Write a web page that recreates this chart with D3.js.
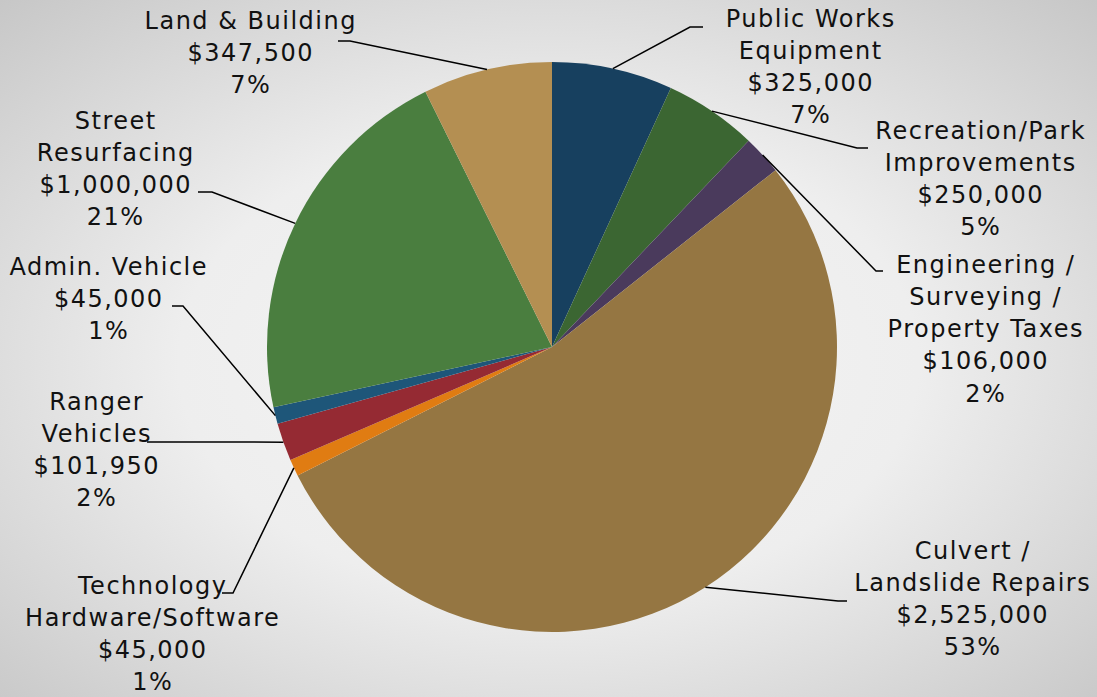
<!DOCTYPE html>
<html>
<head>
<meta charset="utf-8">
<script src="https://cdn.jsdelivr.net/npm/d3@7"></script>
<style>
  html, body { margin: 0; padding: 0; overflow: hidden; }
  text { font-family: "DejaVu Sans", Verdana, sans-serif; }
</style>
</head>
<body>
<script>
var categories = [
  'Public Works Equipment',
  'Recreation/Park Improvements',
  'Engineering / Surveying / Property Taxes',
  'Culvert / Landslide Repairs',
  'Technology Hardware/Software',
  'Ranger Vehicles',
  'Admin. Vehicle',
  'Street Resurfacing',
  'Land & Building'
];
var values = [325000, 250000, 106000, 2525000, 45000, 101950, 45000, 1000000, 347500];
var labelLines = [
  ['Public Works', 'Equipment'],
  ['Recreation/Park', 'Improvements'],
  ['Engineering /', 'Surveying /', 'Property Taxes'],
  ['Culvert /', 'Landslide Repairs'],
  ['Technology', 'Hardware/Software'],
  ['Ranger', 'Vehicles'],
  ['Admin. Vehicle'],
  ['Street', 'Resurfacing'],
  ['Land & Building']
];
var colors = ['#17405f', '#3b6632', '#4a3a5c', '#957642', '#e07c12', '#952a33', '#1e5679', '#4a7e3f', '#b48f52'];

// label block placement: text centre x, first line centre y, leader end (x,y), elbow x
var labelLayout = [
  {x: 810, y: 18,  lx: 703, ly: 27,  ex: 690},
  {x: 980, y: 130, lx: 868, ly: 148, ex: 857},
  {x: 985, y: 264, lx: 883, ly: 271, ex: 876},
  {x: 972, y: 550, lx: 847, ly: 601, ex: 838},
  {x: 152, y: 585, lx: 222, ly: 593, ex: 233},
  {x: 96,  y: 401, lx: 147, ly: 442, ex: 160},
  {x: 108, y: 266, lx: 172, ly: 306, ex: 183},
  {x: 115, y: 120, lx: 198, ly: 192, ex: 212},
  {x: 250, y: 20,  lx: 338, ly: 41,  ex: 350}
];

var width = 1097,
    height = 697;
var cx = 552, cy = 347, radius = 285;
var lineH = 32.3;

var svg = d3.select('body').append('svg')
    .attr('width', width)
    .attr('height', height);

var defs = svg.append('defs');
var grad = defs.append('radialGradient')
    .attr('id', 'bg')
    .attr('cx', '50%').attr('cy', '52%').attr('r', '75%');
grad.append('stop').attr('offset', '0%').attr('stop-color', '#f5f5f5');
grad.append('stop').attr('offset', '45%').attr('stop-color', '#eeeeee');
grad.append('stop').attr('offset', '100%').attr('stop-color', '#c4c4c4');

svg.append('rect')
    .attr('width', width)
    .attr('height', height)
    .attr('fill', 'url(#bg)');

var total = d3.sum(values);
var data = categories.map((c, i) => ({name: c, value: values[i], lines: labelLines[i], color: colors[i], pos: labelLayout[i]}));

var pie = d3.pie().value(d => d.value).sort(null);
var arc = d3.arc().innerRadius(0).outerRadius(radius);

var g = svg.append('g').attr('transform', `translate(${cx}, ${cy})`);
var arcs = pie(data);

g.selectAll('.slice')
    .data(arcs)
    .enter()
    .append('path')
    .attr('class', 'slice')
    .attr('d', arc)
    .attr('fill', d => d.data.color);

// leader lines start on the pie edge at the slice mid angle
var fmt = d3.format(',');
arcs.forEach(d => {
  var mid = (d.startAngle + d.endAngle) / 2;
  var px = cx + radius * Math.sin(mid),
      py = cy - radius * Math.cos(mid);
  var p = d.data.pos;
  svg.append('polyline')
      .attr('points', `${px},${py} ${p.ex},${p.ly} ${p.lx},${p.ly}`)
      .attr('fill', 'none')
      .attr('stroke', '#000')
      .attr('stroke-width', 1.5);

  var lines = d.data.lines.concat(['$' + fmt(d.data.value), Math.round(d.data.value / total * 100) + '%']);
  var t = svg.append('text')
      .attr('text-anchor', 'middle')
      .attr('font-size', 24)
      .attr('letter-spacing', 1.5)
      .attr('fill', '#111');
  lines.forEach((s, i) => {
    t.append('tspan')
        .attr('x', p.x + 0.75)
        .attr('y', p.y + i * lineH + 8.5)
        .text(s);
  });
});
</script>
</body>
</html>
